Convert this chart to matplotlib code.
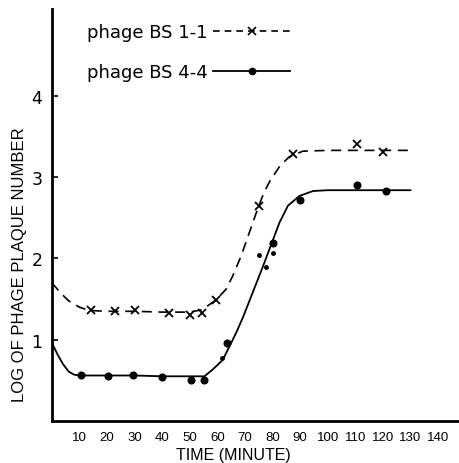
import matplotlib
matplotlib.use("Agg")
import matplotlib.pyplot as plt

# ---- data ----
bs11_x = [14, 23, 30, 42.5, 50, 54.5, 59.6, 75, 87.3, 110.5, 120]
bs11_y = [1.36, 1.35, 1.36, 1.33, 1.30, 1.33, 1.49, 2.64, 3.28, 3.41, 3.31]

bs44_x = [10.5, 20.4, 29.5, 40, 50.5, 55, 63.6, 80, 89.8, 110.5, 121]
bs44_y = [0.56, 0.55, 0.56, 0.54, 0.51, 0.51, 0.96, 2.19, 2.72, 2.90, 2.83]

small_x = [61.5, 75, 77.5, 80]
small_y = [0.77, 2.04, 1.90, 2.07]

curve11_x = [0, 3, 6, 10, 13.5, 20, 30, 40, 50, 54.5, 59.5, 63.1, 65.5, 68.6, 71.6, 74.7, 77, 79, 82.5, 86, 91, 100, 130]
curve11_y = [1.70, 1.58, 1.48, 1.40, 1.36, 1.35, 1.35, 1.34, 1.34, 1.37, 1.49, 1.62, 1.78, 2.03, 2.32, 2.62, 2.82, 2.95, 3.13, 3.25, 3.32, 3.33, 3.33]

curve44_x = [0, 2, 4, 6, 8, 10, 20, 30, 40, 50, 55.3, 58.5, 61.9, 65, 67, 69.2, 72.8, 76.5, 79.5, 82.5, 85.6, 89.8, 94.7, 100, 130]
curve44_y = [0.96, 0.82, 0.70, 0.61, 0.57, 0.56, 0.56, 0.56, 0.55, 0.55, 0.55, 0.64, 0.75, 0.96, 1.10, 1.27, 1.58, 1.90, 2.17, 2.44, 2.65, 2.77, 2.83, 2.84, 2.84]

xticks = [10, 20, 30, 40, 50, 60, 70, 80, 90, 100, 110, 120, 130, 140]
yticks = [1, 2, 3, 4]

narrow = "Liberation Sans"

fig = plt.figure(figsize=(4.6, 4.64), dpi=100)
ax = fig.add_axes([0.113, 0.0905, 0.887, 0.888])

ax.plot(curve11_x, curve11_y, color="black", lw=1.2, dashes=(6, 4))
ax.plot(curve44_x, curve44_y, color="black", lw=1.3)
ax.plot(bs11_x, bs11_y, linestyle="none", marker="x", ms=6, mew=1.3, color="black")
ax.plot(bs44_x, bs44_y, linestyle="none", marker="o", ms=4.8, color="black")
ax.plot(small_x, small_y, linestyle="none", marker="o", ms=2.5, color="black")

# legend handles
h1, = ax.plot([], [], color="black", lw=1.2, dashes=(4, 3), marker="x", ms=6, mew=1.2)
h2, = ax.plot([], [], color="black", lw=1.3, marker="o", ms=4.5)
leg = ax.legend([h1, h2], ["phage BS 1-1", "phage BS 4-4"], loc="upper left",
                bbox_to_anchor=(0.045, 1.005), frameon=False, markerfirst=False,
                handlelength=4.3, numpoints=1, labelspacing=1.2, handletextpad=0.3,
                prop={"size": 13})

ax.set_xlim(0, 148)
ax.set_ylim(0, 5.07)
ax.set_xticks(xticks)
ax.set_yticks(yticks)
ax.tick_params(axis="x", length=0, pad=7, labelsize=9.5)
for lbl in ax.get_xticklabels():
    lbl.set_family(narrow)
ax.tick_params(axis="y", direction="in", length=4, width=1.2, pad=7, labelsize=12.5)
for s in ["top", "right"]:
    ax.spines[s].set_visible(False)
for s in ["left", "bottom"]:
    ax.spines[s].set_linewidth(2)

ax.set_xlabel("TIME (MINUTE)", fontsize=11.5, family=narrow)
ax.xaxis.set_label_coords(0.444, -0.082, transform=ax.transAxes)
ax.xaxis.label.set_va("center")
ax.set_ylabel("LOG OF PHAGE PLAQUE NUMBER", fontsize=12, family=narrow)
ax.yaxis.set_label_coords(-0.062, 0.381)

fig.savefig("out.png", dpi=100)
